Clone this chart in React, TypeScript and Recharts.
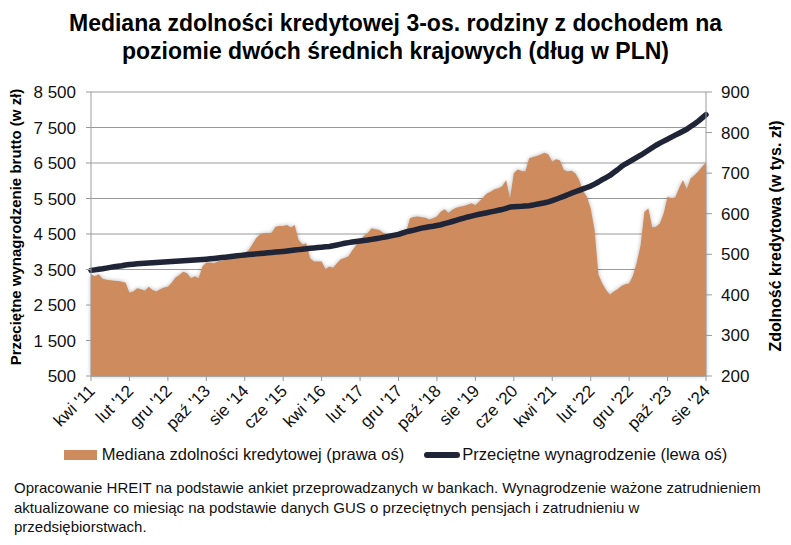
import React from "react";
import {
  ComposedChart,
  Area,
  Line,
  XAxis,
  YAxis,
  CartesianGrid,
  Legend,
  Label,
} from "recharts";

document.body.style.margin = "0";

// months run from kwi '11 to sie '24
const monthNames = ["sty", "lut", "mar", "kwi", "maj", "cze", "lip", "sie", "wrz", "paź", "lis", "gru"];
const startMonth = 3; // April
const startYear = 11;

// median credit capacity, thousands PLN (right axis)
const credit = [
  451, 446, 451, 440, 437, 436, 435, 434, 432, 430,
  405, 408, 416, 414, 410, 420, 412, 408, 414, 418,
  420, 430, 443, 449, 457, 453, 441, 446, 441, 470,
  480, 480, 478, 483, 484, 486, 488, 490, 493, 497,
  503, 510, 525, 540, 549, 552, 552, 553, 568, 570,
  570, 572, 566, 572, 535, 524, 527, 490, 482, 482,
  482, 463, 470, 467, 478, 488, 491, 495, 510, 522,
  535, 545, 552, 564, 562, 560, 553, 548, 546, 550,
  553, 560, 556, 589, 592, 593, 591, 590, 586, 589,
  593, 605, 611, 602, 610, 615, 617, 619, 622, 626,
  621, 630, 640, 650, 654, 660, 663, 668, 683, 636,
  700, 709, 705, 704, 737, 740, 742, 746, 750, 746,
  728, 734, 731, 708, 704, 706, 700, 683, 656, 642,
  613, 560, 450, 428, 412, 400, 408, 414, 422, 426,
  428, 447, 480, 523, 605, 613, 566, 568, 576, 601,
  642, 638, 640, 663, 683, 660, 687, 695, 704, 716,
  726,
];

// average gross wage, PLN (left axis)
const wage = [
  3475, 3490, 3505, 3520, 3540, 3560, 3575, 3590, 3605, 3625, 3640,
  3650, 3660, 3668, 3676, 3684, 3692, 3700, 3706, 3713, 3720,
  3727, 3733, 3740, 3747, 3753, 3760, 3767, 3774, 3782, 3790,
  3800, 3812, 3824, 3836, 3848, 3860, 3872, 3885, 3898, 3910,
  3920, 3930, 3940, 3950, 3960, 3970, 3980, 3990, 4000, 4010,
  4022, 4035, 4048, 4060, 4072, 4085, 4098, 4108, 4118, 4128, 4138, 4150,
  4170, 4192, 4215, 4240, 4258, 4275, 4290, 4305, 4318, 4330,
  4348, 4366, 4384, 4404, 4424, 4446, 4468, 4490, 4525, 4560,
  4585, 4610, 4638, 4665, 4685, 4703, 4720, 4740, 4760,
  4790, 4820, 4852, 4885, 4918, 4950, 4980,
  5005, 5030, 5055, 5078, 5100, 5122, 5145, 5168, 5190, 5225, 5260,
  5268, 5275, 5280, 5288, 5296,
  5315, 5340, 5360, 5380, 5405, 5440, 5480,
  5520, 5560, 5605, 5650, 5690, 5730, 5770, 5810, 5850,
  5905, 5965, 6030, 6090, 6150, 6230, 6310, 6400, 6470,
  6530, 6595, 6660, 6720, 6790, 6860, 6930, 7000,
  7060, 7115, 7170, 7230, 7285, 7340, 7395, 7450,
  7525, 7600, 7680, 7770, 7860,
];

const leftTicks = [500, 1500, 2500, 3500, 4500, 5500, 6500, 7500, 8500];
const rightTicks = [200, 300, 400, 500, 600, 700, 800, 900];

const labels = credit.map((_, i) => {
  const m = startMonth + i;
  return `${monthNames[m % 12]} '${startYear + Math.floor(m / 12)}`;
});

const data = labels.map((m, i) => ({ m, credit: credit[i], wage: wage[i] }));

const AREA = "#CD8B5E";
const LINE = "#1F2437";
const FONT = "'Liberation Sans', Arial, sans-serif";

const fmtPl = (v: number) =>
  v >= 1000 ? `${Math.floor(v / 1000)} ${String(v % 1000).padStart(3, "0")}` : String(v);

const XTick = (props: any) => {
  const { x, y, payload } = props;
  const tx = x + 5;
  const ty = y + 9;
  return (
    <text
      x={tx}
      y={ty}
      transform={`rotate(-45 ${tx} ${ty})`}
      textAnchor="end"
      fontSize={17}
      fill="#111"
      fontFamily={FONT}
    >
      {payload.value}
    </text>
  );
};

const LegendBox = () => (
  <div
    style={{
      display: "flex",
      justifyContent: "center",
      alignItems: "center",
      fontFamily: FONT,
      fontSize: 16.5,
      color: "#111",
      width: 791,
    }}
  >
    <span style={{ display: "inline-block", width: 33, height: 10, background: AREA, marginRight: 5 }} />
    <span>Mediana zdolności kredytowej (prawa oś)</span>
    <span
      style={{
        display: "inline-block",
        width: 36,
        height: 6,
        borderRadius: 3,
        background: LINE,
        marginLeft: 20,
        marginRight: 2,
      }}
    />
    <span>Przeciętne wynagrodzenie (lewa oś)</span>
  </div>
);

export default function App() {
  return (
    <div style={{ position: "relative", width: 791, height: 545, background: "#fff", fontFamily: FONT }}>
      <style>{`.credit-area path { filter: drop-shadow(0 0 2px rgba(0,0,0,0.3)); }`}</style>
      <div
        style={{
          position: "absolute",
          top: 9,
          left: 0,
          width: 791,
          textAlign: "center",
          fontWeight: "bold",
          fontSize: 23,
          lineHeight: "28px",
          color: "#000",
        }}
      >
        Mediana zdolności kredytowej 3-os. rodziny z dochodem na
        <br />
        poziomie dwóch średnich krajowych (dług w PLN)
      </div>

      <div style={{ position: "absolute", top: 0, left: 0 }}>
        <ComposedChart
          width={791}
          height={470}
          data={data}
          margin={{ top: 92, right: 0, bottom: 0, left: 0 }}
        >
          <CartesianGrid yAxisId="left" vertical={false} stroke="#9A9A9A" strokeWidth={1} />
          <XAxis
            dataKey="m"
            interval={9}
            height={94}
            tick={<XTick />}
            tickSize={5}
            tickLine={{ stroke: "#9A9A9A" }}
            axisLine={{ stroke: "#9A9A9A" }}
          />
          <YAxis
            yAxisId="left"
            orientation="left"
            width={91}
            domain={[500, 8500]}
            ticks={leftTicks}
            tickFormatter={fmtPl}
            tickSize={5}
            tickMargin={10}
            tick={{ fill: "#111", fontSize: 17, fontFamily: FONT }}
            tickLine={{ stroke: "#9A9A9A" }}
            axisLine={{ stroke: "#9A9A9A" }}
            interval={0}
          >
            <Label
              content={() => (
                <text
                  x={15}
                  y={227}
                  transform="rotate(-90 15 227)"
                  textAnchor="middle"
                  dominantBaseline="central"
                  fontWeight="bold"
                  fontSize={15}
                  fill="#000"
                  fontFamily={FONT}
                >
                  Przeciętne wynagrodzenie brutto (w zł)
                </text>
              )}
            />
          </YAxis>
          <YAxis
            yAxisId="right"
            orientation="right"
            width={85}
            domain={[200, 900]}
            ticks={rightTicks}
            tickSize={6}
            tickMargin={9}
            tick={{ fill: "#111", fontSize: 17, fontFamily: FONT }}
            tickLine={{ stroke: "#9A9A9A" }}
            axisLine={{ stroke: "#9A9A9A" }}
            interval={0}
          >
            <Label
              content={() => (
                <text
                  x={775}
                  y={236}
                  transform="rotate(-90 775 236)"
                  textAnchor="middle"
                  dominantBaseline="central"
                  fontWeight="bold"
                  fontSize={16}
                  fill="#000"
                  fontFamily={FONT}
                >
                  Zdolność kredytowa (w tys. zł)
                </text>
              )}
            />
          </YAxis>
          <Area
            className="credit-area"
            yAxisId="right"
            dataKey="credit"
            type="linear"
            fill={AREA}
            fillOpacity={1}
            stroke="none"
            isAnimationActive={false}
          />
          <Line
            yAxisId="left"
            dataKey="wage"
            type="linear"
            stroke={LINE}
            strokeWidth={5.5}
            strokeLinecap="round"
            strokeLinejoin="round"
            dot={false}
            activeDot={false}
            isAnimationActive={false}
          />
          <Legend
            layout="horizontal"
            verticalAlign="middle"
            align="center"
            content={<LegendBox />}
            wrapperStyle={{ top: 445, left: 0, width: 791, height: 20 }}
          />
        </ComposedChart>
      </div>

      <div
        style={{
          position: "absolute",
          top: 478,
          left: 14,
          width: 770,
          fontSize: 15,
          lineHeight: "19.5px",
          color: "#111",
        }}
      >
        Opracowanie HREIT na podstawie ankiet przeprowadzanych w bankach. Wynagrodzenie ważone zatrudnieniem
        <br />
        aktualizowane co miesiąc na podstawie danych GUS o przeciętnych pensjach i zatrudnieniu w
        <br />
        przedsiębiorstwach.
      </div>
    </div>
  );
}
